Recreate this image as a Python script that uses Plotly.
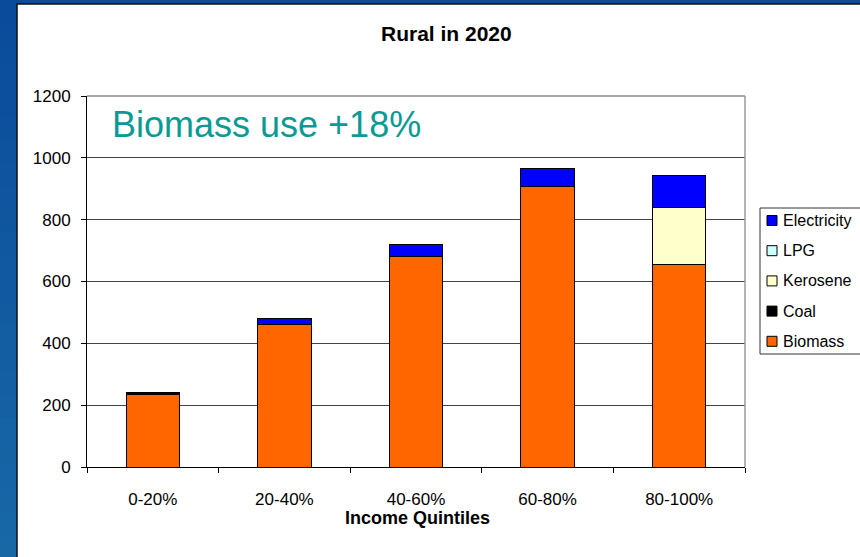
import plotly.graph_objects as go

# Household energy use by income quintile, rural areas, 2020
quintiles = ["0-20%", "20-40%", "40-60%", "60-80%", "80-100%"]
biomass = [235, 462, 680, 906, 656]
coal = [5, 0, 0, 0, 0]
kerosene = [0, 0, 0, 0, 182]
lpg = [0, 0, 0, 0, 0]
electricity = [0, 19, 39, 59, 105]
y_ticks = [0, 200, 400, 600, 800, 1000, 1200]

W, H = 860, 557
ML, MR, MT, MB = 87, 115, 96, 90
PW, PH = W - ML - MR, H - MT - MB


def xp(px):
    return (px - ML) / PW


def yp(py):
    return (H - MB - py) / PH


FONT = "Arial, Liberation Sans, sans-serif"

series = [
    ("Biomass", biomass, "#FF6600"),
    ("Coal", coal, "#000000"),
    ("Kerosene", kerosene, "#FFFFCC"),
    ("LPG", lpg, "#CCFFFF"),
    ("Electricity", electricity, "#0000FF"),
]

fig = go.Figure()
for name, vals, col in series:
    fig.add_trace(go.Bar(
        x=quintiles, y=vals, name=name, showlegend=False,
        marker=dict(color=col, line=dict(color="#000000", width=1)),
    ))

shapes = []
# blue frame with vertical shading on the left band
top_c, bot_c = (10, 75, 155), (24, 104, 166)
n = 24
for i in range(n):
    t = i / (n - 1)
    c = tuple(round(a + (b - a) * t) for a, b in zip(top_c, bot_c))
    y0 = H * i / n
    y1 = H * (i + 1) / n + 1
    shapes.append(dict(type="rect", xref="paper", yref="paper", layer="below",
                       x0=xp(-5), x1=xp(W + 20), y0=yp(y1), y1=yp(y0),
                       fillcolor="rgb(%d,%d,%d)" % c, line=dict(width=0)))
# white chart panel
shapes.append(dict(type="rect", xref="paper", yref="paper", layer="below",
                   x0=xp(17), x1=xp(W + 30), y0=yp(H + 30), y1=yp(4),
                   fillcolor="#FFFFFF", line=dict(color="#111111", width=1.5)))
# top and right edges of the plotting area
shapes.append(dict(type="line", xref="paper", yref="paper", layer="above",
                   x0=0, x1=1, y0=1, y1=1, line=dict(color="#8a8a8a", width=1.5)))
shapes.append(dict(type="line", xref="paper", yref="paper", layer="above",
                   x0=1, x1=1, y0=0, y1=1, line=dict(color="#9a9a9a", width=1.5)))

annotations = [
    dict(text="<b>Rural in 2020</b>", xref="paper", yref="paper",
         x=xp(446), y=yp(34), xanchor="center", yanchor="middle",
         showarrow=False, font=dict(family=FONT, size=21, color="#000000")),
    dict(text="<b>Income Quintiles</b>", xref="paper", yref="paper",
         x=xp(417), y=yp(518), xanchor="center", yanchor="middle",
         showarrow=False, font=dict(family=FONT, size=18, color="#000000")),
    dict(text="Biomass use +18%", xref="paper", yref="paper",
         x=xp(110), y=yp(124), xanchor="left", yanchor="middle",
         showarrow=False, font=dict(family=FONT, size=36, color="#0A9A96")),
]

# legend panel: entries listed from the top of the stack downwards
leg_left, leg_top, leg_bottom = 760, 208, 354
shapes.append(dict(type="rect", xref="paper", yref="paper", layer="above",
                   x0=xp(leg_left), x1=xp(W + 20), y0=yp(leg_bottom), y1=yp(leg_top),
                   fillcolor="#FFFFFF", line=dict(color="#333333", width=1)))
row_h = 30.2
for k, (name, vals, col) in enumerate(reversed(series)):
    cy = leg_top + 12.5 + k * row_h
    shapes.append(dict(type="rect", xref="paper", yref="paper", layer="above",
                       x0=xp(767), x1=xp(777), y0=yp(cy + 5), y1=yp(cy - 5),
                       fillcolor=col, line=dict(color="#000000", width=1)))
    annotations.append(dict(text=name, xref="paper", yref="paper",
                            x=xp(781), y=yp(cy), xanchor="left", yanchor="middle",
                            showarrow=False,
                            font=dict(family=FONT, size=16, color="#000000")))

fig.update_layout(
    width=W, height=H,
    margin=dict(l=ML, r=MR, t=MT, b=MB, autoexpand=False),
    paper_bgcolor="#0F55A0", plot_bgcolor="#FFFFFF",
    barmode="stack", bargap=0.595,
    font=dict(family=FONT, size=17, color="#000000"),
    shapes=shapes, annotations=annotations,
    showlegend=False,
    xaxis=dict(showline=True, linecolor="#000000", linewidth=1,
               ticks="outside", ticklen=5, tickcolor="#000000",
               tickson="boundaries", ticklabelstandoff=17,
               showgrid=False, zeroline=False),
    yaxis=dict(range=[0, 1200], tickvals=y_ticks,
               showline=True, linecolor="#000000", linewidth=1,
               ticks="outside", ticklen=5, tickcolor="#000000",
               ticklabelstandoff=7,
               showgrid=True, gridcolor="#444444", gridwidth=1,
               zeroline=False),
)

fig.write_html("out.html")
